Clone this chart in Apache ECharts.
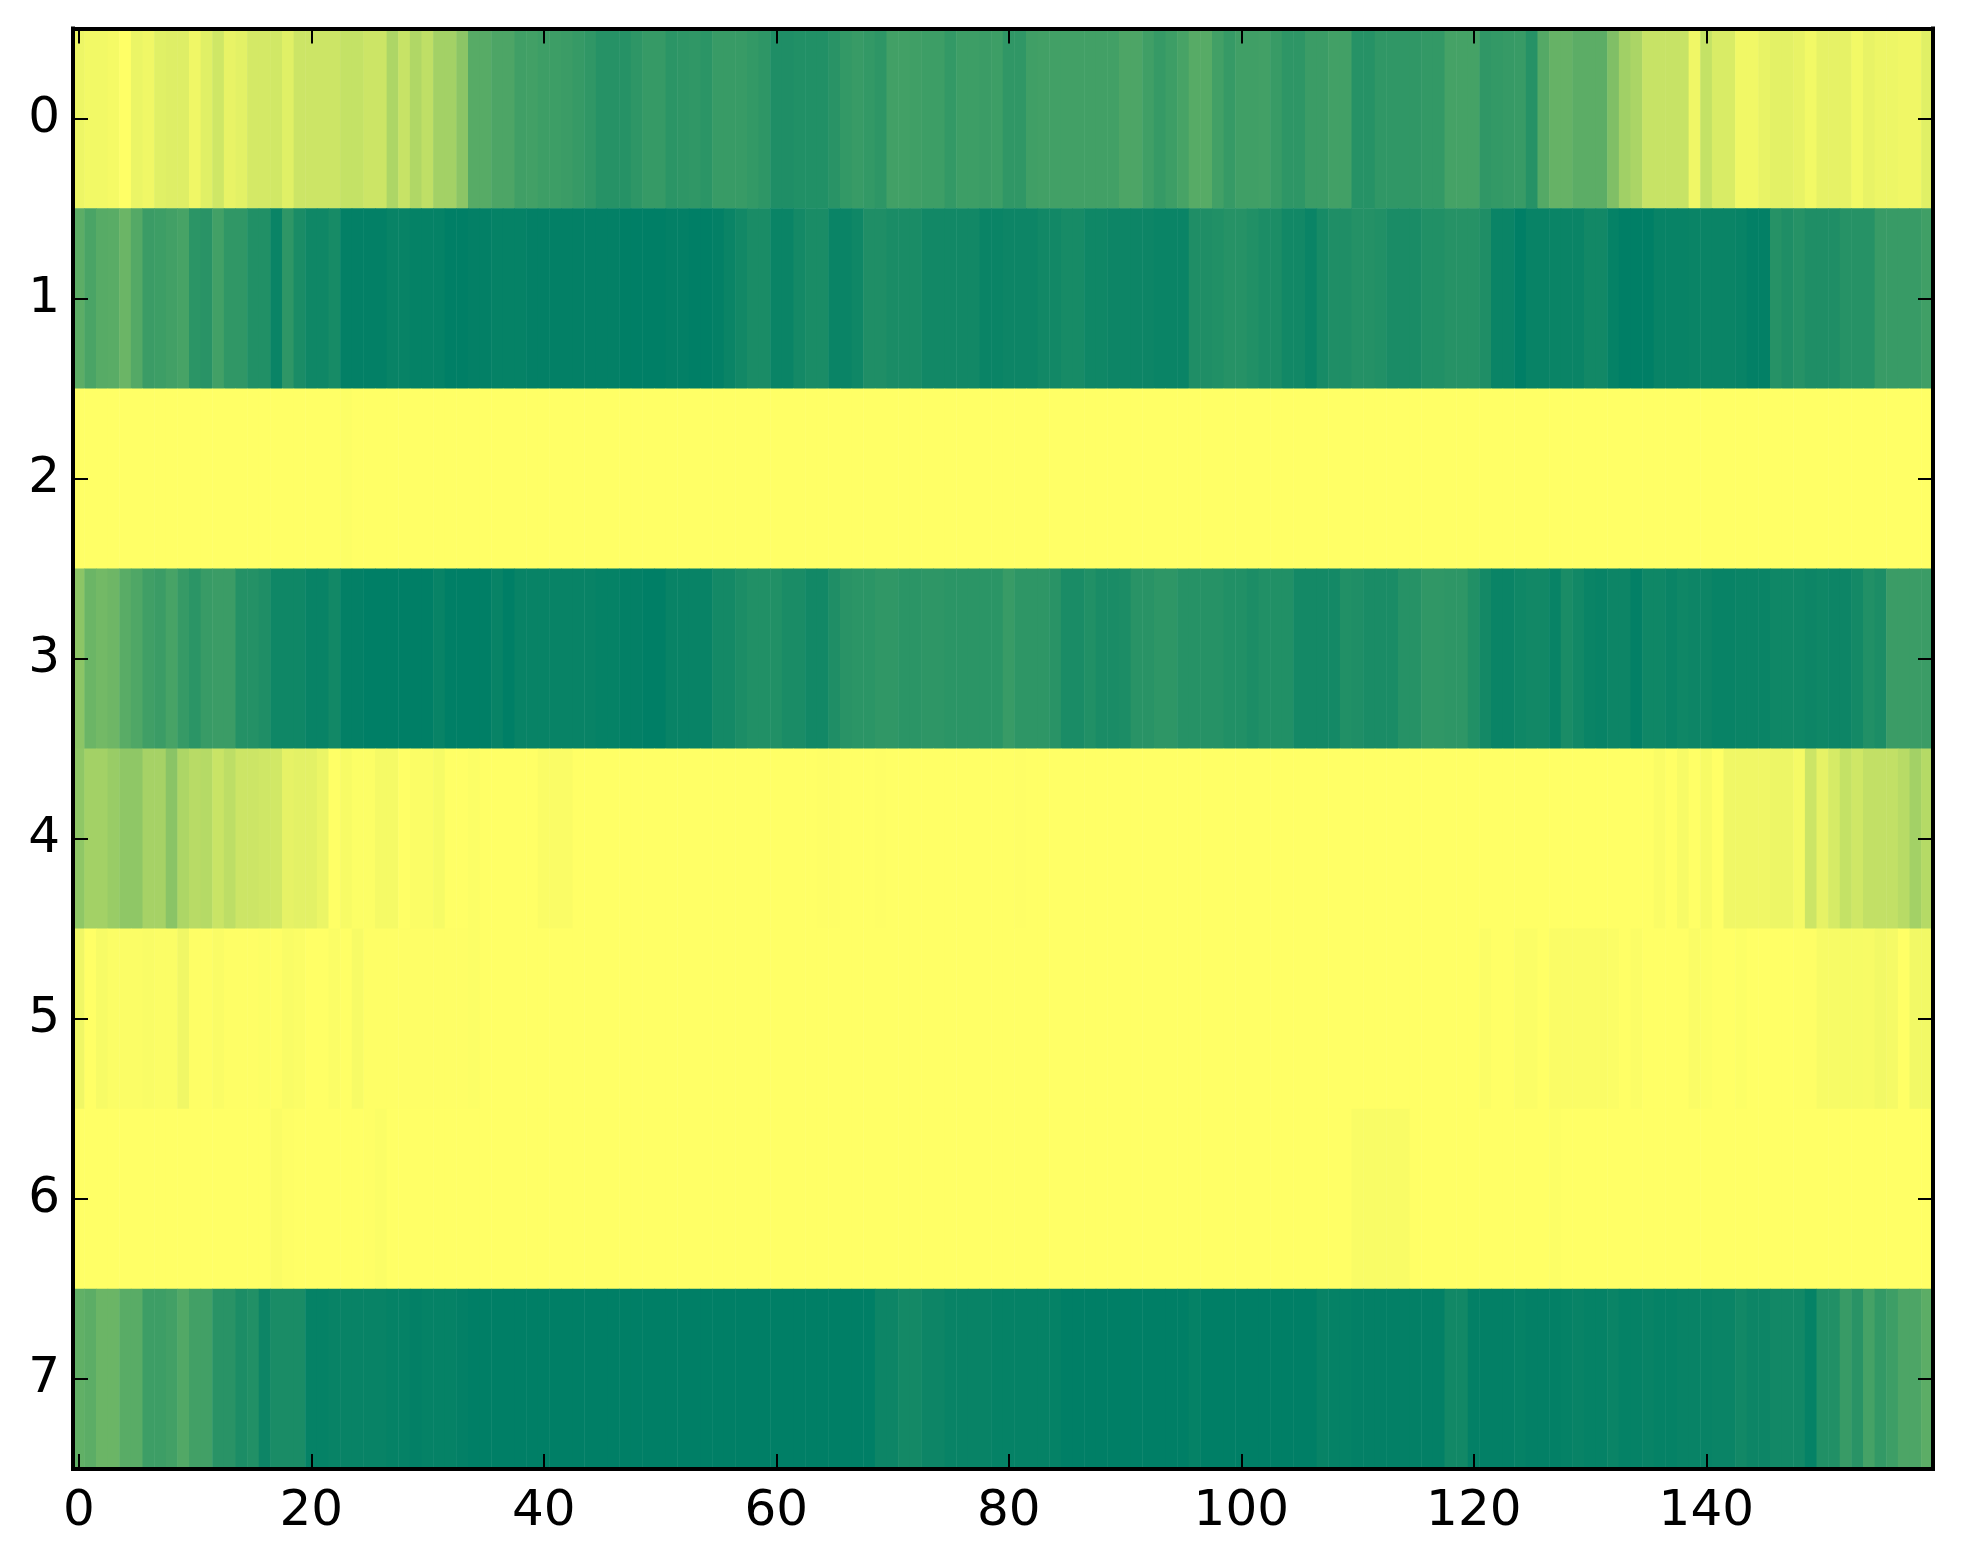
<!DOCTYPE html>
<html>
<head>
<meta charset="utf-8">
<style>html,body{margin:0;padding:0;background:#fff}#c{width:1963px;height:1564px}</style>
<script src="https://cdn.jsdelivr.net/npm/echarts@6/dist/echarts.min.js"></script>
</head>
<body>
<div id="c"></div>
<script>
const row0 = [.07,.05,.05,.04,0,.08,.06,.12,.13,.13,
.06,.12,.19,.09,.11,.17,.17,.18,.12,.2,
.2,.2,.2,.23,.23,.2,.2,.32,.22,.31,
.25,.36,.36,.45,.66,.66,.7,.7,.75,.74,
.76,.76,.77,.79,.81,.85,.85,.85,.82,.79,
.79,.83,.82,.81,.83,.78,.78,.78,.8,.82,
.88,.88,.87,.87,.87,.84,.8,.78,.8,.82,
.74,.74,.75,.76,.76,.8,.76,.76,.77,.76,
.81,.81,.75,.74,.74,.74,.74,.74,.74,.74,
.7,.7,.75,.79,.76,.72,.66,.66,.74,.79,
.75,.75,.74,.78,.82,.82,.77,.77,.74,.74,
.85,.85,.81,.81,.81,.81,.8,.8,.73,.73,
.73,.81,.8,.79,.78,.85,.67,.6,.6,.64,
.64,.64,.5,.37,.33,.22,.22,.22,.22,.06,
.23,.15,.15,.055,.055,.09,.11,.11,.09,.05,
.1,.1,.1,.05,.09,.07,.07,.06,.06,.12];
const row1 = [.64,.71,.66,.65,.58,.67,.77,.76,.74,.72,
.83,.84,.74,.81,.81,.87,.87,.96,.82,.9,
.94,.94,.91,.99,.99,.99,.99,.97,.97,.98,
.98,.98,1,1,.99,.99,.98,.98,.98,.99,
.99,.99,.99,.99,.99,.99,.99,1,1,1,
1,.99,.99,1,1,.99,.96,.93,.9,.9,
.96,.96,.92,.9,.9,.96,.96,.94,.88,.88,
.9,.9,.9,.93,.93,.93,.93,.93,.96,.96,
.95,.95,.95,.93,.93,.91,.91,.94,.94,.95,
.95,.95,.95,.96,.96,.96,.88,.88,.87,.85,
.85,.87,.89,.89,.93,.93,.96,.91,.88,.88,
.86,.86,.87,.9,.9,.9,.87,.87,.85,.85,
.85,.88,.96,.96,1,.97,.97,.96,.96,.96,
.93,.93,.98,1,1,1,.97,.97,.97,.96,
.96,.96,.96,.97,.99,.99,.85,.88,.85,.88,
.88,.88,.85,.85,.85,.78,.78,.78,.78,.75];
const row2 = [0,0,0,0,0,0,0,0,0,0,
0,0,0,0,0,0,0,0,0,0,
0,0,0,.01,0,0,0,0,0,0,
0,0,0,0,0,0,0,0,0,0,
0,0,0,0,0,0,0,0,0,0,
0,0,0,0,0,0,0,0,0,0,
0,0,0,0,0,0,0,0,0,0,
0,0,0,0,0,0,0,0,0,0,
0,0,0,0,0,0,0,0,0,0,
0,0,0,0,0,0,0,0,0,0,
0,0,0,0,0,0,0,0,0,0,
0,0,0,0,0,0,0,0,0,0,
0,0,0,0,0,0,0,0,0,0,
0,0,0,0,0,0,0,0,0,0,
0,0,0,0,0,0,0,0,0,0,
0,0,0,0,0,0,0,0,0,0];
const row3 = [.45,.58,.55,.57,.65,.69,.75,.77,.72,.79,
.83,.78,.77,.77,.86,.86,.88,.94,.94,.94,
.97,.97,.93,.99,.99,1,1,1,1,1,
1,.97,1,1,1,1,.97,1,.97,.97,
.97,.97,.97,.97,.97,.98,.98,.99,.99,1,
1,.97,.97,.97,.97,.92,.92,.89,.87,.87,
.87,.9,.9,.93,.93,.88,.84,.83,.83,.81,
.81,.83,.83,.82,.82,.83,.83,.83,.83,.83,
.78,.82,.82,.82,.84,.9,.9,.87,.9,.9,
.89,.84,.84,.82,.82,.85,.85,.85,.85,.87,
.87,.89,.87,.87,.87,.92,.92,.92,.92,.87,
.88,.9,.9,.9,.85,.85,.81,.81,.82,.82,
.87,.92,.96,.96,.94,.93,.93,.97,.9,.93,
.96,.97,.95,.95,.99,.94,.94,.96,.94,.95,
.95,.97,.97,.96,.96,.96,.94,.94,.94,.95,
.94,.95,.95,.92,.87,.89,.77,.77,.77,.77];
const row4 = [.44,.36,.36,.4,.44,.44,.35,.35,.46,.32,
.28,.29,.21,.26,.2,.2,.19,.18,.1,.11,
.11,.08,0,.03,.01,.01,.04,.04,0,.015,
.015,.035,0,0,.01,0,0,0,0,0,
.02,.02,.02,0,0,0,0,0,0,0,
0,0,0,0,0,0,0,0,0,0,
0,0,0,0,.005,.005,0,0,0,.005,
0,0,0,0,0,0,0,0,0,0,
0,.005,0,0,0,0,0,0,0,0,
0,0,0,0,0,0,0,0,0,0,
0,0,0,0,0,0,0,0,0,0,
0,0,0,0,0,0,0,0,0,0,
0,0,0,0,0,0,0,0,0,0,
0,0,0,0,0,0,.02,0,.03,0,
.03,0,.06,.06,.06,.06,.07,.07,.04,.2,
.1,.16,.23,.19,.24,.24,.24,.28,.36,.29];
const row5 = [.06,0,.03,.015,.015,.015,.025,.015,.015,.06,
.005,.005,.02,.005,.005,.005,.01,.005,.025,.015,
0,0,.015,0,.03,.005,.005,.005,.005,.005,
.005,.005,.005,.005,.01,0,0,0,0,0,
0,0,0,0,0,0,0,0,0,0,
0,0,0,0,0,0,0,0,0,0,
0,0,0,0,0,0,0,0,0,0,
0,0,0,0,0,0,0,0,0,0,
0,0,0,0,0,0,0,0,0,0,
0,0,0,0,0,0,0,0,0,0,
0,0,0,0,0,0,0,0,0,0,
0,0,0,0,0,0,0,0,0,0,
0,.015,0,0,.015,.015,0,.02,.02,.02,
.02,.02,.015,0,.015,0,0,0,0,.02,
.01,0,0,.01,0,0,0,0,.005,.005,
.03,.03,.035,.035,.03,.05,.04,0,.05,.05];
const row6 = [0,0,0,0,0,0,0,0,0,0,
0,0,0,0,0,0,0,.02,.005,0,
0,0,0,0,0,.005,.015,0,0,0,
0,0,0,0,0,0,0,0,0,0,
0,0,0,0,0,0,0,0,0,0,
0,0,0,0,0,0,0,0,0,0,
0,0,0,0,0,0,0,0,0,0,
0,0,0,0,0,0,0,0,0,0,
0,0,0,0,0,0,0,0,0,0,
0,0,0,0,0,0,0,0,0,0,
0,0,0,0,0,0,0,0,0,0,
.025,.025,.025,.025,.025,0,0,0,0,0,
0,0,0,0,0,0,0,.01,0,0,
0,0,0,0,0,0,0,0,0,0,
0,0,0,0,0,0,0,0,0,0,
0,0,0,0,0,0,0,0,0,0];
const row7 = [.62,.64,.58,.58,.65,.65,.76,.76,.74,.68,
.74,.74,.84,.84,.89,.87,.95,.9,.9,.9,
.98,.98,.97,.97,.97,.97,.97,.98,.98,.99,
.98,.98,.98,.99,1,1,1,1,1,1,
1,1,1,1,1,1,1,1,1,1,
1,1,1,1,1,1,1,1,1,1,
1,1,1,1,1,1,1,1,1,.95,
.95,.92,.92,.95,.95,.97,.97,.97,.97,.98,
.98,.98,.98,.98,.98,1,1,1,1,1,
1,1,1,1,1,1,.98,1,1,1,
1,1,1,1,1,1,1,.97,.98,.98,
.99,.99,.99,.99,.99,.99,.99,.99,.93,.93,
.99,.99,.99,.99,.98,.99,.99,.99,.98,.97,
.98,.98,.96,.98,.98,.97,.98,.98,.97,.97,
.97,.96,.96,.93,.95,.95,.93,.93,.93,.98,
.87,.87,.78,.84,.73,.8,.76,.7,.7,.64];

const rows = [row0, row1, row2, row3, row4, row5, row6, row7];
const yLabels = ['0','1','2','3','4','5','6','7'];
const xLabels = row0.map((_, i) => String(i));
const xTickStep = 20;

const data = [];
rows.forEach((r, y) => r.forEach((v, x) => data.push([x, y, v])));

const FONT = '"DejaVu Sans"';
const line = { show: true, onZero: false, lineStyle: { color: '#000', width: 4, cap: 'square' } };
const everyTwenty = i => i % xTickStep === 0;
const xTick = { show: true, inside: true, length: 15, alignWithLabel: true, interval: everyTwenty, lineStyle: { color: '#000', width: 2 } };
const yTick = { show: true, inside: true, length: 15, alignWithLabel: true, interval: 0, lineStyle: { color: '#000', width: 2 } };

const chart = echarts.init(document.getElementById('c'), null, { renderer: 'canvas' });
chart.setOption({
  animation: false,
  backgroundColor: '#fff',
  grid: { left: 73, top: 28.5, width: 1860, height: 1440.5, containLabel: false },
  xAxis: [
    { type: 'category', data: xLabels, position: 'bottom', z: 5, boundaryGap: true, axisLine: line, axisTick: xTick,
      splitLine: { show: false }, splitArea: { show: false },
      axisLabel: { interval: everyTwenty, color: '#000', fontFamily: FONT, fontSize: 50, margin: 18, hideOverlap: false } },
    { type: 'category', data: xLabels, position: 'top', z: 5, boundaryGap: true, axisLine: line, axisTick: xTick,
      splitLine: { show: false }, splitArea: { show: false }, axisLabel: { show: false } }
  ],
  yAxis: [
    { type: 'category', data: yLabels, inverse: true, position: 'left', z: 5, axisLine: line, axisTick: yTick,
      splitLine: { show: false }, splitArea: { show: false },
      axisLabel: { interval: 0, color: '#000', fontFamily: FONT, fontSize: 50, margin: 13, padding: [4, 0, 0, 0] } },
    { type: 'category', data: yLabels, inverse: true, position: 'right', z: 5, axisLine: line, axisTick: yTick,
      splitLine: { show: false }, splitArea: { show: false }, axisLabel: { show: false } }
  ],
  visualMap: { show: false, type: 'continuous', dimension: 2, min: 0, max: 1, inRange: { color: ['#ffff66', '#007f66'] } },
  series: [{
    type: 'heatmap', xAxisIndex: 0, yAxisIndex: 0, data: data, progressive: 0,
    itemStyle: { borderWidth: 0 }, emphasis: { disabled: true }
  }]
});
</script>
</body>
</html>
